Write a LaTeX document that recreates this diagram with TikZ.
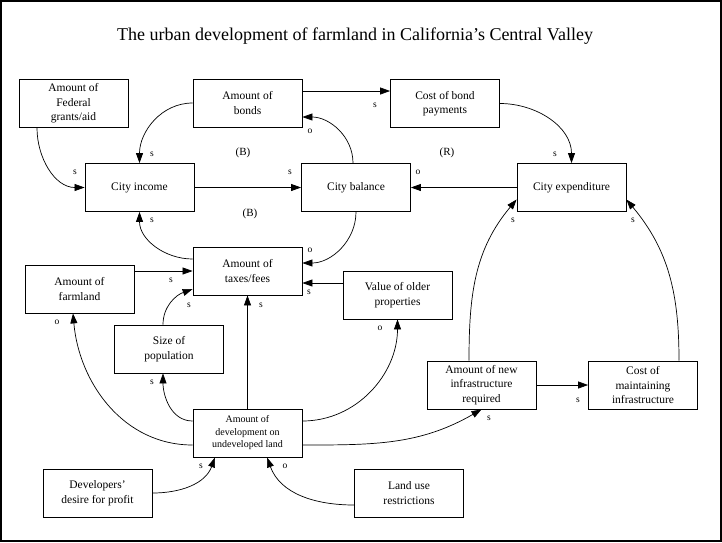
\documentclass[tikz,border=0pt]{standalone}
\usepackage{fontspec}
\setmainfont{Liberation Serif}
\usepackage{tikz}
\usetikzlibrary{arrows.meta}

\begin{document}
\begin{tikzpicture}[x=1pt,y=-1pt,
    box/.style={draw, line width=0.8pt, minimum width=109pt, minimum height=48pt,
      align=center, inner sep=1pt, font=\fontsize{11.5}{14.5}\selectfont},
    lbl/.style={font=\fontsize{9.5}{10}\selectfont, inner sep=0pt},
    loopname/.style={font=\fontsize{11}{12}\selectfont, inner sep=0pt},
    link/.style={line width=0.7pt, -{Triangle[length=10pt,width=7pt]}}]

    \useasboundingbox (0,0) rectangle (722,542);

    \draw[line width=1.5pt] (1,1) rectangle (721,541);

    \node[font=\fontsize{18}{20}\selectfont] (title) at (355,36) {The urban development of farmland in California’s Central Valley};



    \node[box] (fed) at (73.5,103.5) {Amount of\\Federal\\grants/aid};

    \node[box] (bonds) at (247.5,103) {Amount of\\bonds};

    \node[box] (bondcost) at (445,103.5) {Cost of bond\\payments};

    \node[box] (income) at (139.5,187.5) {City income};

    \node[box] (balance) at (356,187.5) {City balance};

    \node[box] (expend) at (571.5,187.5) {City expenditure};

    \node[box] (taxes) at (247.5,271) {Amount of\\taxes/fees};

    \node[box] (farm) at (79.5,289) {Amount of\\farmland};

    \node[box] (value) at (397.5,295) {Value of older\\properties};

    \node[box] (pop) at (169,349) {Size of\\population};

    \node[box, font=\fontsize{10}{12.5}\selectfont] (dev) at (247.5,433) {Amount of\\development on\\undeveloped land};

    \node[box] (newinf) at (481.5,385) {Amount of new\\infrastructure\\required};

    \node[box] (maint) at (643,385) {Cost of\\maintaining\\infrastructure};

    \node[box] (profit) at (97.5,493) {Developers’\\desire for profit};

    \node[box] (landuse) at (409,493) {Land use\\restrictions};



    % upper loops
    \draw[link] ([xshift=-36.5pt]fed.south) to[out=-90,in=180] (income.west);

    \draw[link] (bonds.west) to[out=180,in=90] (income.north);

    \draw[link] ([yshift=12pt]bonds.east) -- ([yshift=12.5pt]bondcost.west);

    \draw[link] (income.east) -- (balance.west);

    \draw[link] ([xshift=-3pt]balance.north) to[out=90,in=0] ([yshift=-14pt]bonds.east);

    \draw[link] (bondcost.east) to[out=0,in=90] (expend.north);

    \draw[link] (expend.west) -- (balance.east);

    \draw[link] ([yshift=12pt]taxes.west) to[out=180,in=-90] (income.south);

    \draw[link] (balance.south) to[out=-90,in=0] ([yshift=8pt]taxes.east);



    % into taxes
    \draw[link] ([yshift=18pt]farm.east) -- (taxes.west);

    \draw[link] ([xshift=-6pt]pop.north) to[out=90,in=200] ([yshift=-18pt]taxes.west);

    \draw[link] (dev.north) -- (taxes.south);

    \draw[link] ([yshift=12pt]value.west) -- ([yshift=-12pt]taxes.east);



    % out of development
    \draw[link] ([yshift=12pt]dev.west) to[out=180,in=-90] ([xshift=-6pt]pop.south);

    \draw[link] ([yshift=-12pt]dev.west) to[out=180,in=-85] ([xshift=-6.5pt]farm.south);

    \draw[link] ([yshift=12pt]dev.east) to[out=0,in=-90] (value.south);

    \draw[link] ([yshift=-12pt]dev.east) to[out=0,in=-150] (newinf.south);

    \draw[link] ([xshift=-12.5pt]newinf.north) to[out=90,in=-130] ([yshift=-12pt]expend.west);

    \draw[link] (newinf.east) -- (maint.west);

    \draw[link] ([xshift=36pt]maint.north) to[out=90,in=-50] ([yshift=-12pt]expend.east);

    \draw[link] (profit.east) to[out=0,in=-110] ([xshift=-32.5pt]dev.south);

    \draw[link] ([yshift=-12pt]landuse.west) to[out=180,in=-70] ([xshift=19.5pt]dev.south);



    % signs and loops
    \node[lbl] (s1) at (75,172) {s};
    \node[lbl] (s2) at (152,154) {s};
    \node[lbl] (s3) at (375,105) {s};
    \node[lbl] (s4) at (290,172) {s};
    \node[lbl] (o1) at (310,131) {o};
    \node[lbl] (s5) at (555,154) {s};
    \node[lbl] (o2) at (418,172) {o};
    \node[lbl] (s6) at (152,220) {s};
    \node[lbl] (o3) at (310,250) {o};
    \node[lbl] (s7) at (171,280) {s};
    \node[lbl] (s8) at (189,305) {s};
    \node[lbl] (s9) at (261,305) {s};
    \node[lbl] (s10) at (309,292) {s};
    \node[lbl] (s11) at (152,382) {s};
    \node[lbl] (o4) at (57,322) {o};
    \node[lbl] (o5) at (380,328) {o};
    \node[lbl] (s12) at (489,418) {s};
    \node[lbl] (s13) at (513,220) {s};
    \node[lbl] (s14) at (578,400) {s};
    \node[lbl] (s15) at (633,220) {s};
    \node[lbl] (s16) at (201,466) {s};
    \node[lbl] (o6) at (285,466) {o};

    \node[loopname] (b1) at (243,153) {(B)};
    \node[loopname] (b2) at (250,214) {(B)};
    \node[loopname] (r1) at (447,153) {(R)};

  \end{tikzpicture}
\end{document}
